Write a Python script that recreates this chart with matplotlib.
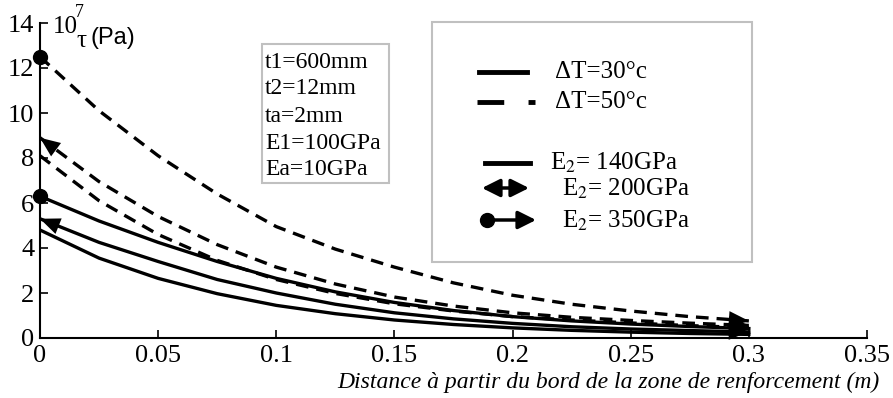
import matplotlib
matplotlib.use('Agg')
import matplotlib.pyplot as plt
from matplotlib.patches import Rectangle
from matplotlib.lines import Line2D

plt.rcParams['font.family'] = 'Liberation Serif'
plt.rcParams['mathtext.fontset'] = 'stix'

# distance (m) and shear stress (x 10^7 Pa)
x = [0, 0.025, 0.05, 0.075, 0.1, 0.125, 0.15, 0.175, 0.2, 0.225, 0.25, 0.275, 0.3]
dT50_E350 = [12.5, 10.1, 8.1, 6.4, 4.95, 3.95, 3.15, 2.45, 1.9, 1.5, 1.2, 0.95, 0.76]
dT50_E200 = [8.9, 6.95, 5.4, 4.15, 3.15, 2.4, 1.82, 1.42, 1.12, 0.92, 0.78, 0.66, 0.56]
dT50_E140 = [8.1, 6.1, 4.6, 3.45, 2.6, 1.98, 1.52, 1.2, 0.95, 0.8, 0.67, 0.55, 0.46]
dT30_E350 = [6.3, 5.2, 4.25, 3.4, 2.65, 2.05, 1.58, 1.22, 0.95, 0.76, 0.62, 0.51, 0.42]
dT30_E200 = [5.3, 4.25, 3.4, 2.6, 2.0, 1.5, 1.12, 0.85, 0.65, 0.5, 0.4, 0.33, 0.27]
dT30_E140 = [4.8, 3.55, 2.65, 1.97, 1.45, 1.08, 0.8, 0.6, 0.45, 0.34, 0.26, 0.2, 0.16]

xticks = [0, 0.05, 0.1, 0.15, 0.2, 0.25, 0.3, 0.35]
xlabels = ['0', '0.05', '0.1', '0.15', '0.2', '0.25', '0.3', '0.35']
yticks = [0, 2, 4, 6, 8, 10, 12, 14]

params = ['t1=600mm', 't2=12mm', 'ta=2mm', 'E1=100GPa', 'Ea=10GPa']
leg_dt = ['ΔT=30°c', 'ΔT=50°c']
leg_e = ['E$_2$= 140GPa', 'E$_2$= 200GPa', 'E$_2$= 350GPa']

W, H = 893, 398


def fx(px):
    return px / W


def fy(py):
    return 1 - py / H


fig = plt.figure(figsize=(W / 100, H / 100), dpi=100)
ax = fig.add_axes([fx(40), fy(338), 827 / W, 315 / H])

lw = 2.4
dash = (0, (3.8, 2.4))
ax.plot(x, dT30_E140, 'k-', lw=lw, solid_joinstyle='round')
ax.plot(x, dT30_E200, 'k-', lw=lw, solid_joinstyle='round')
ax.plot(x, dT30_E350, 'k-', lw=lw, solid_joinstyle='round')
ax.plot(x, dT50_E140, color='k', ls=dash, lw=lw)
ax.plot(x, dT50_E200, color='k', ls=dash, lw=lw)
ax.plot(x, dT50_E350, color='k', ls=dash, lw=lw)

head = dict(arrowstyle='-|>,head_length=0.6,head_width=0.25', lw=0,
            fc='k', ec='k', mutation_scale=24, shrinkA=0, shrinkB=0)


def arrow_end(ys):
    ax.annotate('', xy=(x[-1], ys[-1]), xytext=(x[-2], ys[-2]),
                arrowprops=head, annotation_clip=False)


def arrow_start(ys):
    ax.annotate('', xy=(x[0], ys[0]), xytext=(x[1], ys[1]),
                arrowprops=head, annotation_clip=False)


for ys in [dT30_E200, dT50_E200]:
    arrow_start(ys)
    arrow_end(ys)
for ys in [dT30_E350, dT50_E350]:
    ax.plot(x[0], ys[0], 'ko', ms=10, clip_on=False)
    arrow_end(ys)

ax.set_xlim(0, 0.35)
ax.set_ylim(0, 14)
ax.set_xticks(xticks)
ax.set_xticklabels(xlabels)
ax.set_yticks(yticks)
ax.tick_params(direction='in', length=6, width=1.2, labelsize=19, pad=4)
ax.tick_params(axis='x', pad=5)
ax.spines['top'].set_visible(False)
ax.spines['right'].set_visible(False)
ax.spines['left'].set_linewidth(1.5)
ax.spines['bottom'].set_linewidth(1.5)

# axis titles
fig.text(fx(53), fy(33), '10', fontsize=18, va='baseline')
fig.text(fx(75), fy(17), '7', fontsize=13, va='baseline')
fig.text(fx(76), fy(47), 'τ', fontsize=18, va='baseline')
fig.text(fx(91), fy(38), '(Pa)', family='Liberation Sans', fontsize=17, va='center')
fig.text(fx(880), fy(382), 'Distance à partir du bord de la zone de renforcement (m)',
         ha='right', va='center', style='italic', fontsize=17)

# parameter box
fig.add_artist(Rectangle((fx(262), fy(183)), 127 / W, 139 / H, transform=fig.transFigure,
                         fill=False, ec='#c0c0c0', lw=1.5))
for i, p in enumerate(params):
    fig.text(fx(265), fy(62 + 27 * i), p, fontsize=17, va='center')

# legend box
fig.add_artist(Rectangle((fx(432), fy(262)), 320 / W, 240 / H, transform=fig.transFigure,
                         fill=False, ec='#c0c0c0', lw=1.5))
fig.add_artist(Line2D([fx(479), fx(527)], [fy(72), fy(72)], color='k', lw=3.5))
fig.add_artist(Line2D([fx(477), fx(535)], [fy(102), fy(102)], color='k', lw=3.5,
                      ls=(0, (5.5, 5))))
fig.add_artist(Line2D([fx(485), fx(530)], [fy(163), fy(163)], color='k', lw=3.5))
fig.text(fx(555), fy(72), leg_dt[0], fontsize=18, va='center')
fig.text(fx(555), fy(102), leg_dt[1], fontsize=18, va='center')

dbl = dict(arrowstyle='<|-|>,head_length=0.6,head_width=0.3', lw=2.5,
           fc='k', ec='k', mutation_scale=18, shrinkA=0, shrinkB=0)
ax.annotate('', xy=(fx(529), fy(188)), xytext=(fx(482), fy(188)),
            xycoords='figure fraction', textcoords='figure fraction', arrowprops=dbl)
one = dict(arrowstyle='-|>,head_length=0.6,head_width=0.3', lw=2.5,
           fc='k', ec='k', mutation_scale=18, shrinkA=0, shrinkB=0)
ax.annotate('', xy=(fx(536), fy(220)), xytext=(fx(487), fy(220)),
            xycoords='figure fraction', textcoords='figure fraction', arrowprops=one)
fig.add_artist(Line2D([fx(487)], [fy(220)], color='k', marker='o', ms=10))

fig.text(fx(550), fy(163), leg_e[0], fontsize=18, va='center')
fig.text(fx(562), fy(189), leg_e[1], fontsize=18, va='center')
fig.text(fx(562), fy(221), leg_e[2], fontsize=18, va='center')

fig.savefig('out.png', dpi=100)
